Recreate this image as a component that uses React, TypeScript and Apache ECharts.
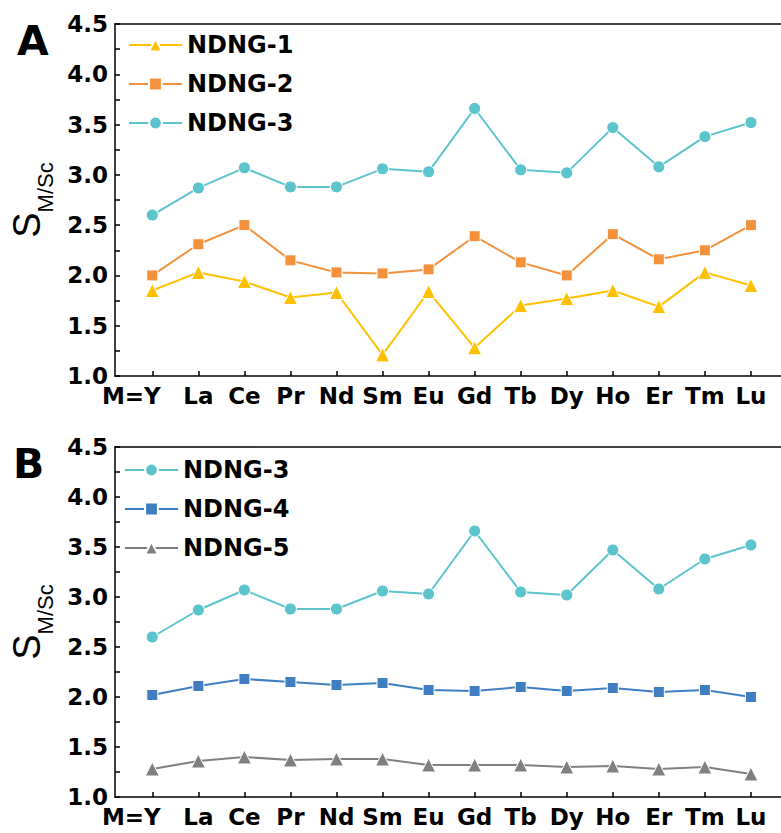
import React, { useEffect, useRef } from "react";
import * as echarts from "echarts";

const elements = ["Y", "La", "Ce", "Pr", "Nd", "Sm", "Eu", "Gd", "Tb", "Dy", "Ho", "Er", "Tm", "Lu"];
const ndng1 = [1.85, 2.03, 1.94, 1.78, 1.83, 1.21, 1.84, 1.28, 1.70, 1.77, 1.85, 1.69, 2.03, 1.90];
const ndng2 = [2.00, 2.31, 2.50, 2.15, 2.03, 2.02, 2.06, 2.39, 2.13, 2.00, 2.41, 2.16, 2.25, 2.50];
const ndng3 = [2.60, 2.87, 3.07, 2.88, 2.88, 3.06, 3.03, 3.66, 3.05, 3.02, 3.47, 3.08, 3.38, 3.52];
const ndng4 = [2.02, 2.11, 2.18, 2.15, 2.12, 2.14, 2.07, 2.06, 2.10, 2.06, 2.09, 2.05, 2.07, 2.00];
const ndng5 = [1.28, 1.36, 1.40, 1.37, 1.38, 1.38, 1.32, 1.32, 1.32, 1.30, 1.31, 1.28, 1.30, 1.23];
const yTicks = [1.0, 1.5, 2.0, 2.5, 3.0, 3.5, 4.0, 4.5];

const C1 = "#FFC000";
const C2 = "#F4913C";
const C3 = "#5BC4CC";
const C4 = "#3F7FC1";
const C5 = "#808080";

const FONT = "DejaVu Sans";
const idx = elements.map((_, i) => i);
const X_MIN = -0.81;
const X_MAX = 15.26;

function toPairs(vals: number[]) {
  return vals.map((v, i) => [i, v]);
}

function bottomX(gridIndex: number) {
  return {
    type: "value",
    gridIndex,
    position: "bottom",
    min: X_MIN,
    max: X_MAX,
    splitLine: { show: false },
    axisLine: { show: true, onZero: false, lineStyle: { color: "#000", width: 1.5 } },
    axisTick: { show: true, inside: true, length: 5, customValues: idx, lineStyle: { color: "#000", width: 1.5 } },
    axisLabel: {
      show: true,
      customValues: idx,
      margin: 8,
      color: "#000",
      fontFamily: FONT,
      fontWeight: "bold",
      fontSize: 23,
      formatter: (v: number) => {
        const i = Math.round(v);
        if (i === 0) return "{m|M=}{y|" + elements[0] + "}";
        return elements[i] ?? "";
      },
      rich: {
        m: { fontFamily: FONT, fontWeight: "bold", fontSize: 23, color: "#000" },
        y: { fontFamily: FONT, fontWeight: "bold", fontSize: 23, color: "#000", padding: [0, 42, 0, 0] },
      },
    },
  };
}

function topX(gridIndex: number) {
  return {
    type: "value",
    gridIndex,
    position: "top",
    min: X_MIN,
    max: X_MAX,
    splitLine: { show: false },
    axisLine: { show: true, onZero: false, lineStyle: { color: "#000", width: 1.5 } },
    axisTick: { show: false },
    axisLabel: { show: false },
  };
}

function makeY(gridIndex: number) {
  return {
    type: "value",
    gridIndex,
    min: 1,
    max: 4.5,
    interval: 0.25,
    splitLine: { show: false },
    axisLine: { show: true, onZero: false, lineStyle: { color: "#000", width: 1.5 } },
    axisTick: { show: true, inside: true, length: 5, lineStyle: { color: "#000", width: 1.5 } },
    axisLabel: {
      margin: 7,
      color: "#000",
      fontFamily: FONT,
      fontWeight: "bold",
      fontSize: 23,
      formatter: (v: number) => {
        const t = yTicks.find((k) => Math.abs(k - v) < 1e-6);
        return t !== undefined ? t.toFixed(1) : "";
      },
    },
    name: "{s|S}{sub|M/Sc}",
    nameLocation: "middle",
    nameRotate: 90,
    nameGap: 58,
    nameTextStyle: {
      rich: {
        s: { fontFamily: "Liberation Sans", fontSize: 38, color: "#000", verticalAlign: "top" },
        sub: { fontFamily: "Liberation Sans", fontSize: 22, color: "#000", verticalAlign: "bottom", lineHeight: 48 },
      },
    },
  };
}

function lineSeries(name: string, vals: number[], color: string, symbol: string, size: number, axisIndex: number) {
  return {
    type: "line",
    name,
    xAxisIndex: axisIndex * 2,
    yAxisIndex: axisIndex,
    data: toPairs(vals),
    symbol,
    symbolSize: size,
    lineStyle: { color, width: 2 },
    itemStyle: { color, borderColor: "#fff", borderWidth: 1 },
  };
}

export default function App() {
  const ref = useRef<HTMLDivElement>(null);
  useEffect(() => {
    if (!ref.current) return;
    const chart = echarts.init(ref.current, undefined, { renderer: "svg" });
    const legendText = { color: "#000", fontFamily: FONT, fontWeight: "bold", fontSize: 24, lineHeight: 26 };
    chart.setOption({
      animation: false,
      backgroundColor: "#fff",
      grid: [
        { left: 115, top: 24, width: 740, height: 352, outerBoundsMode: "none" },
        { left: 115, top: 447, width: 740, height: 350, outerBoundsMode: "none" },
      ],
      xAxis: [bottomX(0), topX(0), bottomX(1), topX(1)],
      yAxis: [makeY(0), makeY(1)],
      legend: [
        {
          orient: "vertical",
          left: 128,
          top: 32,
          padding: 0,
          itemWidth: 53,
          itemHeight: 16,
          itemGap: 13,
          textStyle: legendText,
          data: ["NDNG-1", "NDNG-2", "NDNG-3"],
        },
        {
          orient: "vertical",
          left: 124,
          top: 457,
          padding: 0,
          itemWidth: 53,
          itemHeight: 16,
          itemGap: 13,
          textStyle: legendText,
          data: ["NDNG-3", "NDNG-4", "NDNG-5"],
        },
      ],
      graphic: [
        { type: "text", left: 17, top: 20, style: { text: "A", fontFamily: FONT, fontWeight: "bold", fontSize: 41, fill: "#000" } },
        { type: "text", left: 13, top: 443, style: { text: "B", fontFamily: FONT, fontWeight: "bold", fontSize: 41, fill: "#000" } },
      ],
      series: [
        lineSeries("NDNG-1", ndng1, C1, "triangle", 14, 0),
        lineSeries("NDNG-2", ndng2, C2, "rect", 11, 0),
        lineSeries("NDNG-3", ndng3, C3, "circle", 12, 0),
        lineSeries("NDNG-3", ndng3, C3, "circle", 12, 1),
        lineSeries("NDNG-4", ndng4, C4, "rect", 11, 1),
        lineSeries("NDNG-5", ndng5, C5, "triangle", 14, 1),
      ],
    });
    return () => chart.dispose();
  }, []);
  return (
    <div style={{ position: "fixed", left: 0, top: 0, width: 781, height: 833, overflow: "hidden", background: "#fff" }}>
      <div ref={ref} style={{ width: 900, height: 833 }} />
    </div>
  );
}
